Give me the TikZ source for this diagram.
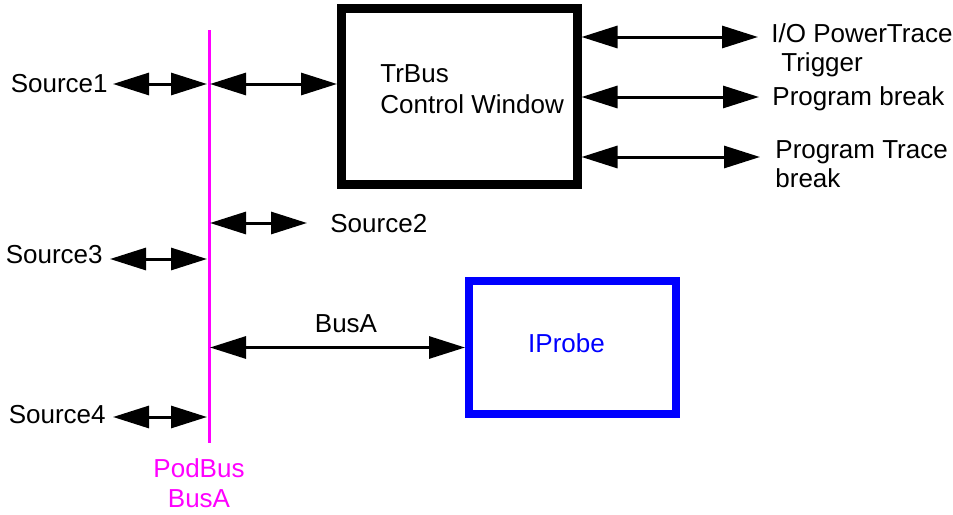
\documentclass[tikz,border=0pt]{standalone}
\usepackage{fontspec}
\setmainfont{Liberation Sans}
\usetikzlibrary{arrows.meta}
\definecolor{podbus}{HTML}{FF00FF}
\definecolor{probe}{HTML}{0000FF}

\begin{document}
\begin{tikzpicture}[x=0.5pt, y=-0.5pt,
    every node/.style={font=\fontsize{13}{14.5}\selectfont, inner sep=0pt},
    link/.style={<->, >={Triangle[length=18pt,width=11pt]}, line width=1.5pt},
    box/.style={draw, rectangle, inner sep=0pt}]
    \useasboundingbox (0,0) rectangle (953,514);

    % Draw the pod bus
    \coordinate (podtop) at (209,30);
    \coordinate (podbot) at (209,443);
    \draw[podbus, line width=1.5pt] (podtop) -- (podbot);
    \node[podbus, align=center, anchor=north, font=\fontsize{13}{15}\selectfont] (podlbl) at (199,458) {PodBus\\BusA};

    % Draw the two boxes
    \node[box, line width=4.5pt, minimum width=117.75pt, minimum height=87.75pt] (trbus) at (459.25,96.25) {};
    \node[anchor=north west, align=left, font=\fontsize{13}{15.5}\selectfont] (trtext) at (380,64) {TrBus\\Control Window};
    \node[box, draw=probe, line width=4pt, minimum width=103.5pt, minimum height=66.5pt] (iprobe) at (572.5,347.5) {};
    \node[probe, anchor=base] (iprobetext) at (566.5,352) {IProbe};

    % Sources on the bus
    \node[anchor=base east] (src1) at (108,92) {Source1};
    \node[anchor=base west] (src2) at (330,232) {Source2};
    \node[anchor=base east] (src3) at (103,263) {Source3};
    \node[anchor=base east] (src4) at (106,423) {Source4};
    \node[anchor=base] (busa) at (346,332) {BusA};

    \draw[link, shorten <=2.5pt, shorten >=1pt] (src1.east |- 0,84) -- (podtop |- 0,84);
    \draw[link, shorten <=0.5pt] (podtop |- 0,84) -- (trbus.west |- 0,84);
    \draw[link, shorten <=0.5pt, shorten >=11.5pt] (podtop |- 0,223) -- (src2.west |- 0,223);
    \draw[link, shorten <=3.5pt, shorten >=1pt] (src3.east |- 0,259) -- (podtop |- 0,259);
    \draw[link, shorten <=0.5pt] (podtop |- iprobe.west) -- (iprobe.west);
    \draw[link, shorten <=3.5pt, shorten >=1pt] (src4.east |- 0,417) -- (podtop |- 0,417);

    % Outputs of the control window
    \node[anchor=north west, align=left] (iotrig) at (771,23) {I/O PowerTrace\\\hspace*{5pt}Trigger};
    \node[anchor=base west] (pbreak) at (772,105) {Program break};
    \node[anchor=north west, align=left] (ptbreak) at (775,140) {Program Trace\\break};

    \draw[link, shorten >=6.5pt] (trbus.east |- 0,37) -- (iotrig.west |- 0,37);
    \draw[link, shorten >=6.5pt] (trbus.east |- 0,97) -- (pbreak.west |- 0,97);
    \draw[link, shorten >=7.5pt] (trbus.east |- 0,157) -- (ptbreak.west |- 0,157);
\end{tikzpicture}
\end{document}
